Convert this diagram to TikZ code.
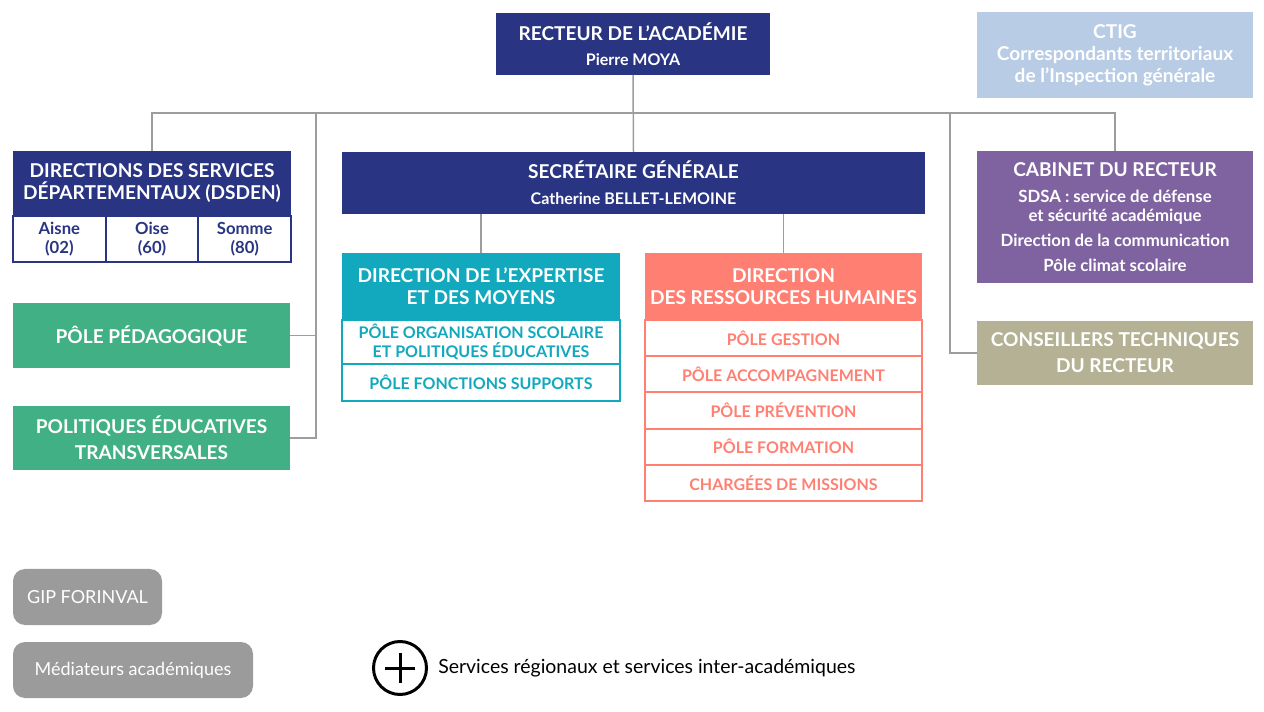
\documentclass[tikz,border=0pt]{standalone}
\usepackage{fontspec}
\setmainfont{Lato}
\usepackage{xcolor}
\usepackage{tikz}
\usetikzlibrary{positioning}

\newlength\px
\setlength\px{0.75pt}
\definecolor{navy}{HTML}{293582}
\definecolor{ctigblue}{HTML}{B9CCE5}
\definecolor{demteal}{HTML}{12A9BF}
\definecolor{drhsalmon}{HTML}{FF8073}
\definecolor{pedgreen}{HTML}{42B085}
\definecolor{cabpurple}{HTML}{7F63A1}
\definecolor{ctkhaki}{HTML}{B5B195}
\definecolor{pillgray}{HTML}{9B9B9B}
\definecolor{linegray}{HTML}{9D9D9D}
\newcommand\headfont{\fontsize{14.3}{16.5}\selectfont\bfseries}
\newcommand\subfont{\fontsize{12}{14}\selectfont\bfseries}
\newcommand\cabfont{\fontsize{12.6}{14.25}\selectfont\bfseries}
\newcommand\cellfont{\fontsize{12}{14.25}\selectfont\bfseries}
\newcommand\deptfont{\fontsize{12.5}{14.25}\selectfont\bfseries}
\newcommand\plainfont{\fontsize{13.5}{16}\selectfont}

\begin{document}
\begin{tikzpicture}[x=0.75pt, y=-0.75pt,
    box/.style={anchor=north west, inner sep=0pt, outer sep=0pt, align=center, text=white, font=\headfont},
    cell/.style={anchor=north west, inner sep=0pt, outer sep=0pt, align=center, fill=white, draw=#1, line width=2\px, text=#1, font=\cellfont},
    pill/.style={anchor=north west, inner sep=0pt, outer sep=0pt, rounded corners=12\px, fill=pillgray, text=white, font=\plainfont},
    link/.style={draw=linegray, line width=1.5\px}]
    \useasboundingbox (0,0) rectangle (1264,712);

    % Top
    \node[box, fill=navy, minimum width=274\px, minimum height=62\px] (rec) at (496,13) {RECTEUR DE L’ACADÉMIE\\[2.5pt]{\subfont Pierre MOYA}};
    \node[box, fill=ctigblue, minimum width=276\px, minimum height=86\px] (ctig) at (977,12) {CTIG\\Correspondants territoriaux\\de l’Inspection générale};

    % Left column
    \node[box, fill=navy, minimum width=278\px, minimum height=65\px] (dsden) at (13,151) {DIRECTIONS DES SERVICES\\DÉPARTEMENTAUX (DSDEN)};
    \node[cell=navy, font=\deptfont, minimum width=92.7\px, minimum height=46\px] (aisne) at (dsden.south west) {Aisne\\(02)};
    \node[cell=navy, font=\deptfont, minimum width=92.7\px, minimum height=46\px] (oise) at (aisne.north east) {Oise\\(60)};
    \node[cell=navy, font=\deptfont, minimum width=92.7\px, minimum height=46\px] (somme) at (oise.north east) {Somme\\(80)};
    \node[box, fill=pedgreen, minimum width=277\px, minimum height=65\px] (pedago) at (13,303) {PÔLE PÉDAGOGIQUE};
    \node[box, fill=pedgreen, minimum width=277\px, minimum height=64\px] (pet) at (13,406) {POLITIQUES ÉDUCATIVES\\[3pt]TRANSVERSALES};

    % Centre
    \node[box, fill=navy, minimum width=583\px, minimum height=62\px] (sg) at (342,152) {SECRÉTAIRE GÉNÉRALE\\[3pt]{\subfont Catherine BELLET-LEMOINE}};
    \node[box, fill=demteal, minimum width=278\px, minimum height=67\px] (dem) at (342,253) {DIRECTION DE L’EXPERTISE\\ET DES MOYENS};
    \node[cell=demteal, minimum width=278\px, minimum height=44\px] (demorg) at (dem.south west) {PÔLE ORGANISATION SCOLAIRE\\ET POLITIQUES ÉDUCATIVES};
    \node[cell=demteal, minimum width=278\px, minimum height=37\px] (demfs) at (demorg.south west) {PÔLE FONCTIONS SUPPORTS};
    \node[box, fill=drhsalmon, minimum width=277\px, minimum height=67\px] (drh) at (645,253) {DIRECTION\\DES RESSOURCES HUMAINES};
    \node[cell=drhsalmon, minimum width=277\px, minimum height=36.2\px] (drhges) at (drh.south west) {PÔLE GESTION};
    \node[cell=drhsalmon, minimum width=277\px, minimum height=36.2\px] (drhacc) at (drhges.south west) {PÔLE ACCOMPAGNEMENT};
    \node[cell=drhsalmon, minimum width=277\px, minimum height=36.2\px] (drhprev) at (drhacc.south west) {PÔLE PRÉVENTION};
    \node[cell=drhsalmon, minimum width=277\px, minimum height=36.2\px] (drhform) at (drhprev.south west) {PÔLE FORMATION};
    \node[cell=drhsalmon, minimum width=277\px, minimum height=36.2\px] (drhmis) at (drhform.south west) {CHARGÉES DE MISSIONS};

    % Right column
    \node[box, font=\cabfont, fill=cabpurple, minimum width=276\px, minimum height=132\px] (cab) at (977,151) {{\headfont CABINET DU RECTEUR}\\[5pt]SDSA : service de défense\\et sécurité académique\\[4.5pt]Direction de la communication\\[4.5pt]Pôle climat scolaire};
    \node[box, fill=ctkhaki, minimum width=276\px, minimum height=64\px] (ct) at (977,321) {CONSEILLERS TECHNIQUES\\[3pt]DU RECTEUR};

    % Bottom
    \node[pill, minimum width=149\px, minimum height=56\px] (gip) at (13,569) {GIP FORINVAL};
    \node[pill, minimum width=240\px, minimum height=56\px] (med) at (13,642) {Médiateurs académiques};
    \node[circle, draw, line width=3\px, minimum size=53\px, inner sep=0pt] (plus) at (400,668) {};
    \draw[line width=3\px] ([xshift=-15\px]plus.center) -- ([xshift=15\px]plus.center);
    \draw[line width=3\px] ([yshift=-15\px]plus.center) -- ([yshift=15\px]plus.center);
    \node[right=10\px of plus, font=\fontsize{14.6}{17}\selectfont, inner sep=0pt] (srv) {Services régionaux et services inter-académiques};

    % Links
    \coordinate (busL) at (152,113);
    \coordinate (busR) at (1115,113);
    \coordinate (jL) at (316,113);
    \coordinate (jR) at (950,113);
    \draw[link] (dsden.north) -- (busL) -- (busR) -- (cab.north);
    \draw[link] (rec.south) -- (sg.north);
    \draw[link] (jL) |- (pet.east);
    \draw[link] (pedago.east) -- (pedago.east -| jL);
    \draw[link] (jR) |- (ct.west);
    \draw[link] (dem.north) -- (dem.north |- sg.south);
    \draw[link] (drh.north) -- (drh.north |- sg.south);
\end{tikzpicture}
\end{document}
